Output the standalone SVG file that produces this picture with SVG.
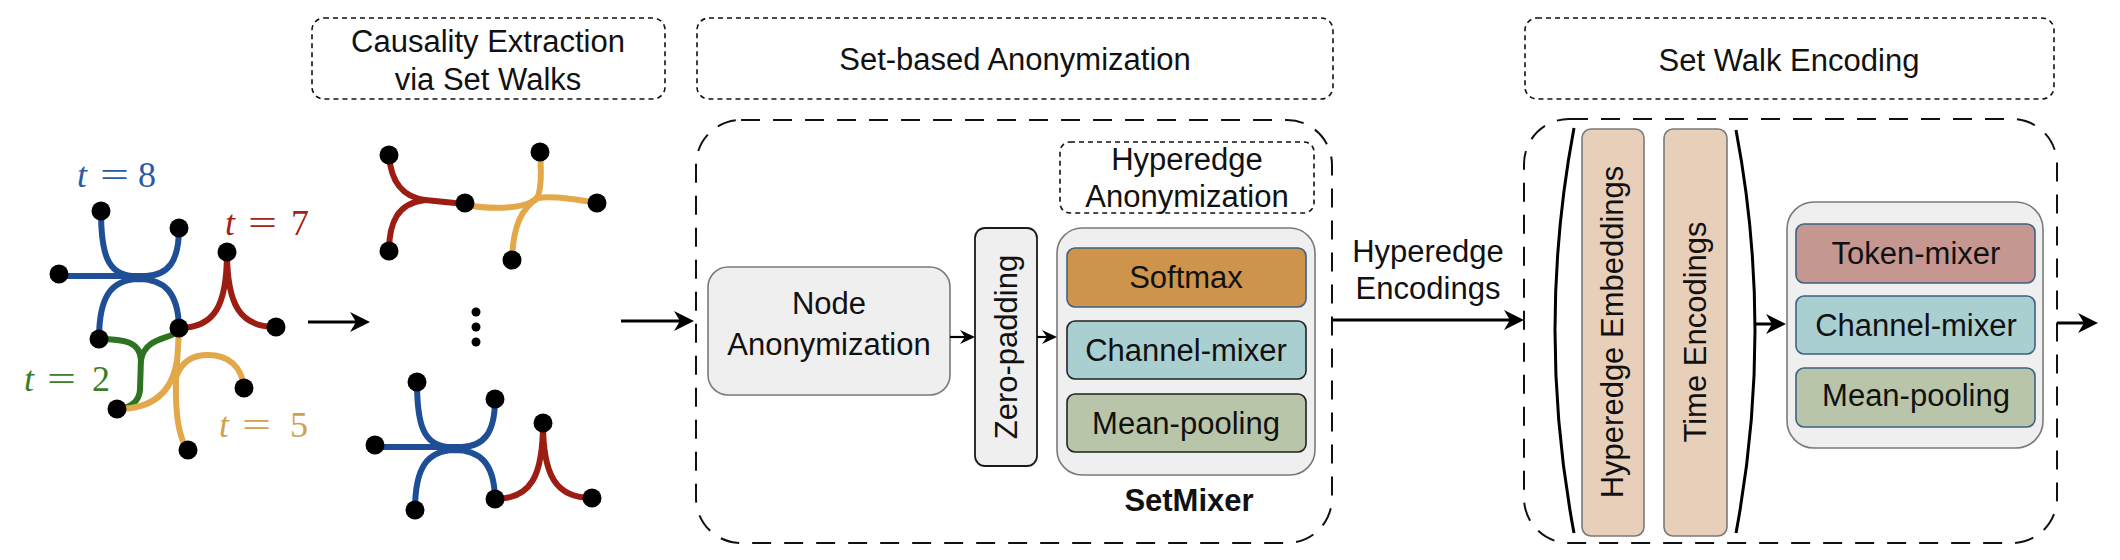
<svg xmlns="http://www.w3.org/2000/svg" width="2120" height="560" viewBox="0 0 2120 560">
<defs>
<style>
text{font-family:"Liberation Sans",Arial,sans-serif;font-size:31px;fill:#111}
.c{text-anchor:middle}
.b{font-weight:bold}
.title{fill:none;stroke:#111;stroke-width:1.6;stroke-dasharray:5 4}
.big{fill:none;stroke:#111;stroke-width:2;stroke-dasharray:19 13}
.gray{fill:#efefef;stroke:#7a7a7a;stroke-width:1.6}
.dk{fill:#efefef;stroke:#1a1a1a;stroke-width:1.8}
.sm{fill:#cf944c;stroke:#3d6282;stroke-width:1.6}
.ch{fill:#aacfd1;stroke:#222;stroke-width:1.6}
.ch2{fill:#aacfd1;stroke:#3d6282;stroke-width:1.6}
.mp{fill:#b9c5a8;stroke:#222;stroke-width:1.6}
.mp2{fill:#b9c5a8;stroke:#3d6282;stroke-width:1.6}
.tk{fill:#c69790;stroke:#3d6282;stroke-width:1.6}
.pe{fill:#e8cfba;stroke:#7a7a7a;stroke-width:1.6}
.he{fill:none;stroke-width:6;stroke-linecap:round}
.bl{stroke:#1e4f96}.rd{stroke:#9c1d12}.gr{stroke:#2d7420}.yl{stroke:#e2a84a}
.dot{fill:#000}
text.m{font-family:"Liberation Serif","Times New Roman",serif;font-size:36px}
text.it{font-style:italic}
text.lb{fill:#2a5aa6}
text.lr{fill:#a32116}
text.lg{fill:#3a7d24}
text.ly{fill:#d0a24e}
.con{fill:none;stroke:#000;stroke-width:3}
.cons{fill:none;stroke:#000;stroke-width:2.2}
.br{fill:none;stroke:#000;stroke-width:3}
</style>
<marker id="ah" viewBox="-20 -10 20 20" refX="-8" refY="0" markerWidth="20" markerHeight="20" markerUnits="userSpaceOnUse" orient="auto">
<path d="M-20,-10 L0,0 L-20,10 L-14,0 Z" fill="#000"/>
</marker>
<marker id="ahs" viewBox="-15 -7 15 14" refX="-6" refY="0" markerWidth="15" markerHeight="14" markerUnits="userSpaceOnUse" orient="auto">
<path d="M-15,-7 L0,0 L-15,7 L-10,0 Z" fill="#000"/>
</marker>
<g id="hg-blue">
<path class="he bl" d="M59,276 L152,276"/>
<path class="he bl" d="M101,211 C101,255 108,274 132,276"/>
<path class="he bl" d="M179,228 C179,262 168,275 146,276"/>
<path class="he bl" d="M99,339 C99,295 112,280 138,279 C164,279 178,292 179,327"/>
</g>
<g id="hg-red">
<path class="he rd" d="M227,252 C227,305 215,328 179,328"/>
<path class="he rd" d="M227,252 C227,305 240,327 276,327"/>
</g>
</defs>
<rect width="2120" height="560" fill="#fff"/>

<g id="title-causality">
<rect class="title" x="312" y="18" width="353" height="81" rx="12"/>
<text class="c" x="488" y="52">Causality Extraction</text>
<text class="c" x="488" y="90">via Set Walks</text>
</g>
<g id="title-setbased">
<rect class="title" x="697" y="18" width="636" height="81" rx="12"/>
<text class="c" x="1015" y="70">Set-based Anonymization</text>
</g>
<g id="title-setwalk">
<rect class="title" x="1525" y="18" width="529" height="81" rx="12"/>
<text class="c" x="1789" y="71">Set Walk Encoding</text>
</g>

<g id="input-hypergraph">
<use href="#hg-blue"/>
<use href="#hg-red"/>
<path class="he gr" d="M99,339 C125,339 140,342 141,360"/>
<path class="he gr" d="M179,330 C172,340 145,336 141,360"/>
<path class="he gr" d="M141,358 L140,390 C139,402 130,408 117,409"/>
<path class="he yl" d="M179,330 L176,380 C175,420 180,440 188,450"/>
<path class="he yl" d="M117,409 C150,409 172,395 177,360"/>
<path class="he yl" d="M177,375 C182,362 193,355 208,355 C228,355 242,366 244,388"/>
<g class="dot">
<circle cx="101" cy="211" r="9.5"/><circle cx="179" cy="228" r="9.5"/><circle cx="59" cy="274" r="9.5"/>
<circle cx="99" cy="339" r="9.5"/><circle cx="179" cy="328" r="9.5"/><circle cx="227" cy="252" r="9.5"/>
<circle cx="276" cy="327" r="9.5"/><circle cx="117" cy="409" r="9.5"/><circle cx="244" cy="388" r="9.5"/>
<circle cx="188" cy="450" r="9.5"/>
</g>
<g id="label-t8"><text class="m it lb" x="77" y="187">t</text><text class="m lb" x="100" y="187" textLength="29" lengthAdjust="spacingAndGlyphs">=</text><text class="m lb" x="138" y="187">8</text></g>
<g id="label-t7"><text class="m it lr" x="225" y="235">t</text><text class="m lr" x="248" y="235" textLength="29" lengthAdjust="spacingAndGlyphs">=</text><text class="m lr" x="291" y="235">7</text></g>
<g id="label-t2"><text class="m it lg" x="24" y="391">t</text><text class="m lg" x="47" y="391" textLength="29" lengthAdjust="spacingAndGlyphs">=</text><text class="m lg" x="92" y="391">2</text></g>
<g id="label-t5"><text class="m it ly" x="219" y="437">t</text><text class="m ly" x="242" y="437" textLength="29" lengthAdjust="spacingAndGlyphs">=</text><text class="m ly" x="290" y="437">5</text></g>
</g>

<g id="set-walk-top">
<path class="he rd" d="M389,155 C391,185 405,197 425,200 L465,204"/>
<path class="he rd" d="M389,251 C389,222 398,203 425,200"/>
<path class="he yl" d="M465,205 C495,210 530,209 538,196 C542,185 541,165 540,152"/>
<path class="he yl" d="M538,198 C550,196 575,199 597,203"/>
<path class="he yl" d="M538,198 C522,208 513,225 512,260"/>
<g class="dot">
<circle cx="389" cy="155" r="9.5"/><circle cx="389" cy="251" r="9.5"/><circle cx="465" cy="203" r="9.5"/>
<circle cx="540" cy="152" r="9.5"/><circle cx="597" cy="203" r="9.5"/><circle cx="512" cy="260" r="9.5"/>
</g>
</g>
<g id="ellipsis" class="dot">
<circle cx="476" cy="312" r="4.5"/><circle cx="476" cy="327" r="4.5"/><circle cx="476" cy="342" r="4.5"/>
</g>
<g id="set-walk-bottom">
<g transform="translate(316,171)">
<use href="#hg-blue"/>
<use href="#hg-red"/>
<g class="dot">
<circle cx="101" cy="211" r="9.5"/><circle cx="179" cy="228" r="9.5"/><circle cx="59" cy="274" r="9.5"/>
<circle cx="99" cy="339" r="9.5"/><circle cx="179" cy="328" r="9.5"/><circle cx="227" cy="252" r="9.5"/>
<circle cx="276" cy="327" r="9.5"/>
</g>
</g>
</g>

<g id="set-based-anonymization">
<rect class="big" x="696" y="120" width="636" height="423" rx="45"/>
</g>
<g id="node-anonymization">
<rect class="gray" x="708" y="267" width="242" height="128" rx="20"/>
<text class="c" x="829" y="314">Node</text>
<text class="c" x="829" y="355">Anonymization</text>
</g>
<g id="zero-padding">
<rect class="dk" x="975" y="228" width="62" height="238" rx="10"/>
<text class="c" transform="translate(1017,347) rotate(-90)">Zero-padding</text>
</g>
<g id="hyperedge-anonymization">
<rect class="title" x="1060" y="142" width="254" height="71" rx="10"/>
<text class="c" x="1187" y="170">Hyperedge</text>
<text class="c" x="1187" y="207">Anonymization</text>
</g>
<g id="setmixer">
<rect class="gray" x="1057" y="228" width="258" height="247" rx="25"/>
<text class="c b" x="1189" y="511">SetMixer</text>
</g>
<g id="softmax">
<rect class="sm" x="1067" y="248" width="239" height="59" rx="8"/>
<text class="c" x="1186" y="288">Softmax</text>
</g>
<g id="channel-mixer-1">
<rect class="ch" x="1067" y="321" width="239" height="58" rx="8"/>
<text class="c" x="1186" y="361">Channel-mixer</text>
</g>
<g id="mean-pooling-1">
<rect class="mp" x="1067" y="394" width="239" height="58" rx="8"/>
<text class="c" x="1186" y="434">Mean-pooling</text>
</g>

<g id="hyperedge-encodings-label">
<text class="c" x="1428" y="262">Hyperedge</text>
<text class="c" x="1428" y="299">Encodings</text>
</g>

<g id="set-walk-encoding">
<rect class="big" x="1524" y="119" width="533" height="424" rx="45"/>
<path class="br" d="M1574,128 Q1536,330 1574,533"/>
<path class="br" d="M1736,130 Q1774,330 1736,533"/>
</g>
<g id="hyperedge-embeddings">
<rect class="pe" x="1582" y="129" width="62" height="407" rx="9"/>
<text class="c" transform="translate(1623,332) rotate(-90)">Hyperedge Embeddings</text>
</g>
<g id="time-encodings">
<rect class="pe" x="1664" y="129" width="63" height="407" rx="9"/>
<text class="c" transform="translate(1706,332) rotate(-90)">Time Encodings</text>
</g>
<g id="mixer">
<rect class="gray" x="1787" y="202" width="256" height="246" rx="27"/>
</g>
<g id="token-mixer">
<rect class="tk" x="1796" y="224" width="239" height="59" rx="8"/>
<text class="c" x="1916" y="264">Token-mixer</text>
</g>
<g id="channel-mixer-2">
<rect class="ch2" x="1796" y="296" width="239" height="58" rx="8"/>
<text class="c" x="1916" y="336">Channel-mixer</text>
</g>
<g id="mean-pooling-2">
<rect class="mp2" x="1796" y="368" width="239" height="59" rx="8"/>
<text class="c" x="1916" y="406">Mean-pooling</text>
</g>

<g id="connectors">
<path class="con" d="M308,322 L362,322" marker-end="url(#ah)"/>
<path class="con" d="M621,321 L686,321" marker-end="url(#ah)"/>
<path class="cons" d="M950,337 L969,337" marker-end="url(#ahs)"/>
<path class="cons" d="M1037,337 L1051,337" marker-end="url(#ahs)"/>
<path class="con" d="M1333,320 L1516,320" marker-end="url(#ah)"/>
<path class="con" d="M1756,324 L1778,324" marker-end="url(#ah)"/>
<path class="con" d="M2057,323 L2090,323" marker-end="url(#ah)"/>
</g>
</svg>
